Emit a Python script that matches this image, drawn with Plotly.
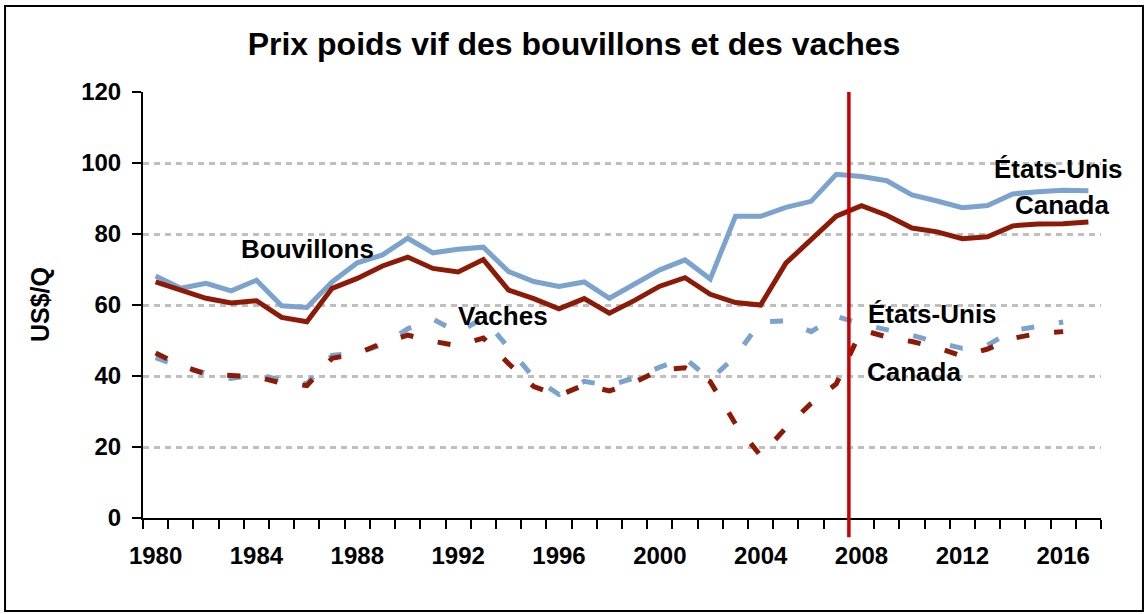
import plotly.graph_objects as go

years = list(range(1980, 2018))
years_vaches = list(range(1980, 2017))

bouv_us = [68.2, 64.7, 66.1, 64.0, 67.0, 59.8, 59.3, 66.5, 71.9, 74.1,
           78.8, 74.7, 75.7, 76.3, 69.4, 66.6, 65.2, 66.5, 61.9, 65.9,
           69.9, 72.7, 67.3, 85.0, 85.0, 87.5, 89.2, 96.8, 96.2, 95.0,
           91.0, 89.3, 87.4, 88.0, 91.3, 91.9, 92.3, 92.2]
bouv_ca = [66.5, 64.2, 61.9, 60.6, 61.2, 56.5, 55.3, 64.7, 67.5, 71.0,
           73.5, 70.3, 69.3, 72.8, 64.2, 61.8, 58.9, 61.8, 57.7, 61.3,
           65.3, 67.7, 63.0, 60.7, 60.0, 71.8, 78.6, 85.0, 88.0, 85.3,
           81.7, 80.6, 78.7, 79.2, 82.3, 82.8, 82.9, 83.4]
vach_us = [45.2, 42.5, 40.8, 39.3, 40.5, 38.8, 37.8, 45.8, 46.5, 48.8,
           53.3, 56.0, 52.3, 56.3, 48.0, 39.5, 34.8, 38.5, 37.3, 39.5,
           42.5, 45.0, 39.0, 45.5, 55.3, 55.5, 52.5, 56.8, 54.6, 53.0,
           51.5, 49.5, 47.8, 48.7, 52.8, 54.0, 55.2]
vach_ca = [46.5, 43.0, 40.5, 40.3, 39.8, 38.0, 37.3, 45.0, 46.3, 49.3,
           51.5, 49.8, 48.5, 50.7, 43.5, 37.0, 34.5, 37.5, 35.8, 38.2,
           41.7, 42.3, 38.4, 26.5, 17.5, 25.4, 32.3, 37.8, 53.0, 51.0,
           49.7, 48.0, 45.6, 47.6, 50.6, 52.0, 52.5]

tick_years = [1980, 1984, 1988, 1992, 1996, 2000, 2004, 2008, 2012, 2016]
y_ticks = [0, 20, 40, 60, 80, 100, 120]
marker_year = 2007.5

BLUE = "#7BA3CE"
RED = "#8C1A06"
FONT = "Liberation Sans, Arial, sans-serif"

fig = go.Figure()
fig.add_trace(go.Scatter(x=years_vaches, y=vach_us, mode="lines",
                         line=dict(color=BLUE, width=5, dash="13px,25px")))
fig.add_trace(go.Scatter(x=years_vaches, y=vach_ca, mode="lines",
                         line=dict(color=RED, width=5, dash="13px,25px")))
fig.add_trace(go.Scatter(x=years, y=bouv_us, mode="lines",
                         line=dict(color=BLUE, width=5)))
fig.add_trace(go.Scatter(x=years, y=bouv_ca, mode="lines",
                         line=dict(color=RED, width=5)))

fig.add_shape(type="line", xref="x", yref="paper", x0=marker_year, x1=marker_year,
              y0=-0.045, y1=1.0, line=dict(color="#CC0000", width=3.5), layer="above")
fig.add_shape(type="rect", xref="paper", yref="paper", x0=-0.144, x1=1.0438,
              y0=-0.2183, y1=1.2019, line=dict(color="black", width=2))

def lab(text, x, y):
    fig.add_annotation(x=x, y=y, xref="x", yref="y", text=text, showarrow=False,
                       xanchor="center", yanchor="middle",
                       font=dict(family=FONT, size=26, color="black", weight="bold"))

lab("Bouvillons", 1986.04, 75.9)
lab("Vaches", 1993.77, 56.8)
lab("États-Unis", 2010.8, 57.6)
lab("Canada", 2010.1, 41.1)
lab("États-Unis", 2015.8, 98.2)
lab("Canada", 2015.96, 88.3)

fig.add_annotation(x=-0.1075, y=0.5, xref="paper", yref="paper", text="US$/Q",
                   textangle=-90, showarrow=False, xanchor="center", yanchor="middle",
                   font=dict(family=FONT, size=25, color="black", weight="bold"))

fig.update_layout(
    width=1148, height=614,
    margin=dict(l=143, r=47, t=92, b=96),
    paper_bgcolor="white", plot_bgcolor="white",
    showlegend=False,
    title=dict(text="Prix poids vif des bouvillons et des vaches", x=0.5, xanchor="center",
               y=1 - 44 / 614, yanchor="middle",
               font=dict(family=FONT, size=32, color="black", weight="bold")),
    xaxis=dict(range=[1979.5, 2017.5], tickmode="array", tickvals=tick_years,
               ticktext=[str(t) for t in tick_years],
               ticks="outside", ticklen=9, tickcolor="rgba(0,0,0,0)",
               showline=True, linecolor="black", linewidth=2, showgrid=False,
               zeroline=False, ticklabelstandoff=6,
               tickfont=dict(family=FONT, size=24, color="black", weight="bold"),
               minor=dict(tickmode="linear", tick0=1979.5, dtick=1, ticks="outside",
                          ticklen=9, tickwidth=2, tickcolor="black", showgrid=False)),
    yaxis=dict(range=[0, 120], tickmode="array", tickvals=y_ticks,
               ticks="outside", ticklen=9, tickwidth=2, tickcolor="black",
               showline=True, linecolor="black", linewidth=2,
               showgrid=True, gridcolor="#BFBFBF", gridwidth=3, griddash="6px,5px",
               zeroline=False, ticklabelstandoff=6,
               tickfont=dict(family=FONT, size=24, color="black", weight="bold")),
)

fig.write_html("out.html", config={"displayModeBar": False},
               post_script="document.body.style.margin='0px';")
